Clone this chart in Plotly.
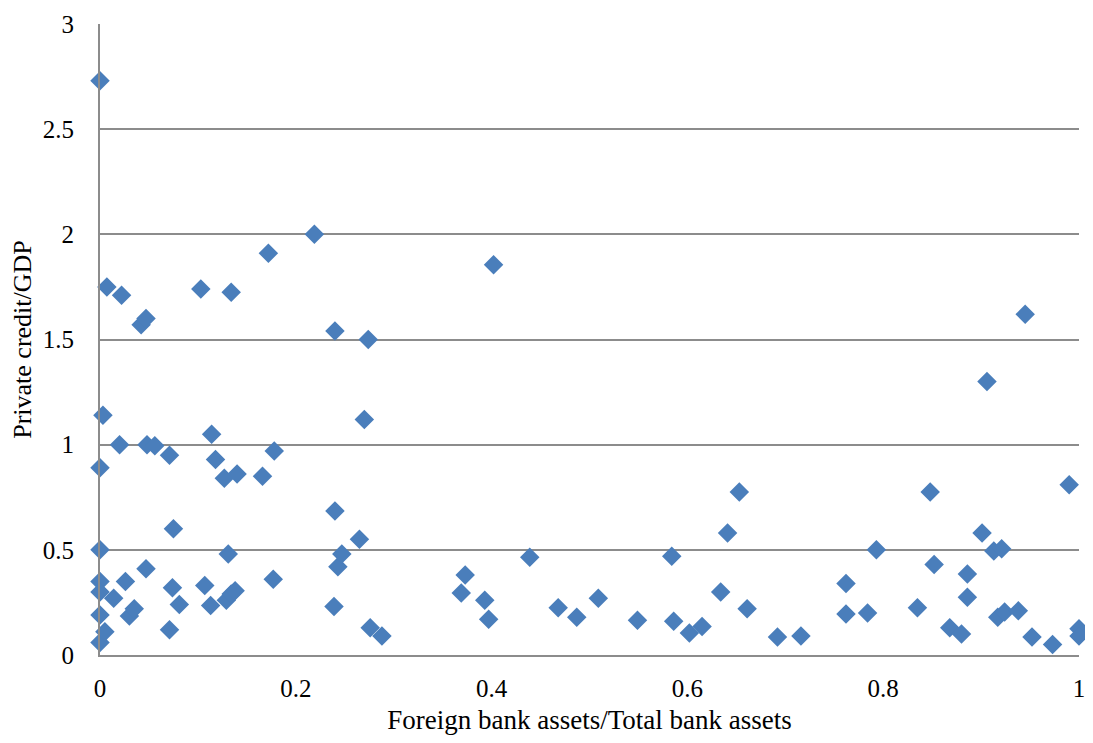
import plotly.graph_objects as go

foreign_share = [
    0.0, 0.0, 0.003, 0.0, 0.0, 0.0, 0.0, 0.0, 0.005, 0.007,
    0.014, 0.02, 0.022, 0.026, 0.03, 0.035, 0.042, 0.047, 0.047, 0.048,
    0.056, 0.071, 0.071, 0.075, 0.074, 0.081, 0.103, 0.107, 0.114, 0.113,
    0.118, 0.127, 0.131, 0.129, 0.134, 0.134, 0.138, 0.14, 0.166, 0.172,
    0.178, 0.177, 0.219, 0.24, 0.24, 0.243, 0.247, 0.239, 0.265, 0.27,
    0.274, 0.276, 0.288, 0.369, 0.373, 0.393, 0.397, 0.402, 0.439, 0.468,
    0.487, 0.509, 0.549, 0.584, 0.586, 0.602, 0.615, 0.634, 0.641, 0.653,
    0.661, 0.692, 0.716, 0.762, 0.762, 0.784, 0.793, 0.835, 0.848, 0.852,
    0.868, 0.88, 0.886, 0.886, 0.901, 0.906, 0.913, 0.921, 0.917, 0.924,
    0.938, 0.945, 0.952, 0.973, 0.99, 1.0, 1.0,
]
private_credit = [
    2.73, 0.89, 1.14, 0.50, 0.35, 0.30, 0.19, 0.06, 0.11, 1.75,
    0.27, 1.00, 1.71, 0.35, 0.185, 0.22, 1.57, 1.60, 0.41, 1.00,
    0.995, 0.95, 0.12, 0.60, 0.32, 0.24, 1.74, 0.33, 1.05, 0.235,
    0.93, 0.84, 0.48, 0.26, 1.725, 0.29, 0.305, 0.86, 0.85, 1.91,
    0.97, 0.36, 2.00, 1.54, 0.685, 0.42, 0.48, 0.23, 0.55, 1.12,
    1.50, 0.13, 0.09, 0.295, 0.38, 0.26, 0.17, 1.855, 0.465, 0.225,
    0.18, 0.27, 0.165, 0.47, 0.16, 0.105, 0.135, 0.30, 0.58, 0.775,
    0.22, 0.085, 0.09, 0.34, 0.195, 0.20, 0.50, 0.225, 0.775, 0.43,
    0.13, 0.10, 0.385, 0.275, 0.58, 1.30, 0.495, 0.505, 0.18, 0.205,
    0.21, 1.62, 0.085, 0.05, 0.81, 0.125, 0.09,
]

x_ticks = [0, 0.2, 0.4, 0.6, 0.8, 1]
x_tick_labels = ["0", "0.2", "0.4", "0.6", "0.8", "1"]
y_ticks = [0, 0.5, 1, 1.5, 2, 2.5, 3]
y_tick_labels = ["0", "0.5", "1", "1.5", "2", "2.5", "3"]

font_family = "Liberation Serif, Times New Roman, serif"

fig = go.Figure()
fig.add_trace(go.Scatter(
    x=foreign_share, y=private_credit, mode="markers",
    marker=dict(symbol="diamond", size=15, color="#4a7ebb", line=dict(width=0)),
    showlegend=False, cliponaxis=False,
))

fig.update_layout(
    width=1077, height=727,
    margin=dict(l=92, r=6, t=16, b=80, autoexpand=False),
    paper_bgcolor="white", plot_bgcolor="white",
    font=dict(family=font_family, size=26, color="black"),
    xaxis=dict(
        range=[0, 1], tickvals=x_ticks, ticktext=x_tick_labels,
        showgrid=False, zeroline=False, automargin=False,
        showline=True, linecolor="#8c8c8c", linewidth=2,
        ticks="", ticklabelstandoff=10, ticklabeloverflow="allow",
        tickfont=dict(size=25),
        title=dict(text="Foreign bank assets/Total bank assets", standoff=18,
                   font=dict(size=27)),
    ),
    yaxis=dict(
        range=[0, 3], tickvals=y_ticks, ticktext=y_tick_labels,
        showgrid=True, gridcolor="#8c8c8c", gridwidth=1.5,
        zeroline=False, automargin=False,
        showline=True, linecolor="#8c8c8c", linewidth=2,
        ticks="", ticklabelstandoff=19, ticklabeloverflow="allow",
        tickfont=dict(size=25),
        title=dict(text="Private credit/GDP", standoff=4, font=dict(size=26)),
    ),
)

fig.write_html("out.html")
